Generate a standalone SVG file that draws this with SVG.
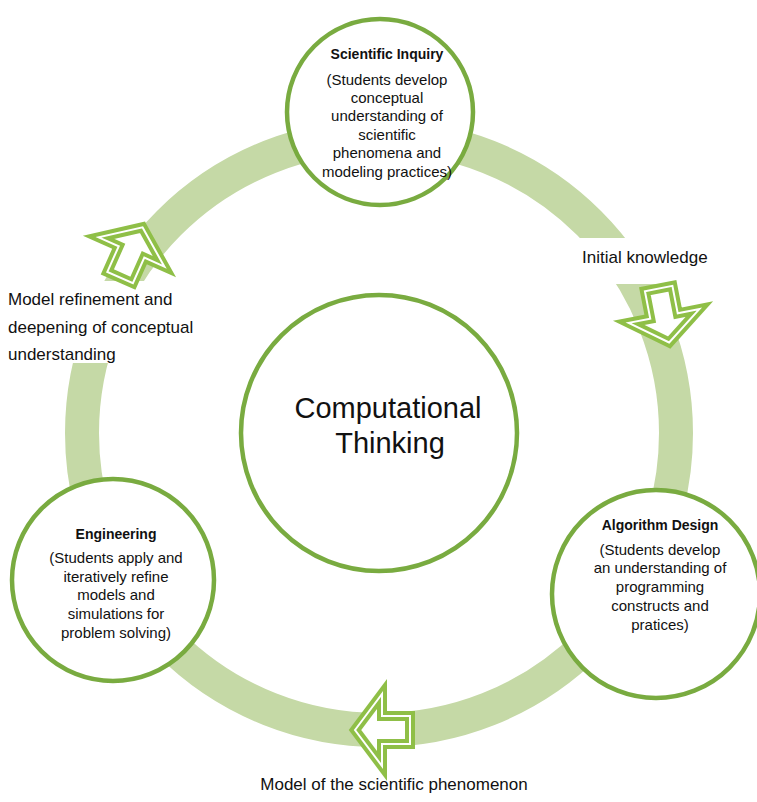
<svg xmlns="http://www.w3.org/2000/svg" width="757" height="802" viewBox="0 0 757 802">
<defs>
<style>
.ring{fill:none;stroke:#c5d9a6;stroke-width:34}
.node{fill:#fff;stroke:#79ab40;stroke-width:4.5}
.arrow-outer{fill:#fff;stroke:#8fbf47;stroke-width:10;stroke-linejoin:miter}
.arrow-inner{fill:none;stroke:#fff;stroke-width:2;stroke-linejoin:miter}
text{font-family:"Liberation Sans",Arial,sans-serif;fill:#111;text-anchor:middle}
.title{font-weight:bold;font-size:14px}
.body{font-size:15px}
.label{font-size:17px;text-anchor:start}
.center{font-size:29px}
</style>
<polygon id="arrowShape" points="0,-27 36,0 14,0 14,28 -14,28 -14,0 -36,0"/>
</defs>
<g id="connectors">
<circle class="ring" cx="379" cy="433" r="297"/>
<rect x="0" y="281" width="205" height="82" fill="#fff"/>
<rect x="572" y="238" width="145" height="46" fill="#fff"/>
<g transform="translate(131.5,252) rotate(24)">
<use href="#arrowShape" class="arrow-outer"/>
<use href="#arrowShape" class="arrow-inner"/>
</g>
<g transform="translate(664,316) rotate(169)">
<use href="#arrowShape" class="arrow-outer"/>
<use href="#arrowShape" class="arrow-inner"/>
</g>
<g transform="translate(382,730) rotate(-90)">
<use href="#arrowShape" class="arrow-outer"/>
<use href="#arrowShape" class="arrow-inner"/>
</g>
</g>
<g id="label-refinement">
<text class="label" x="8" y="305">Model refinement and</text>
<text class="label" x="8" y="333">deepening of conceptual</text>
<text class="label" x="8" y="360">understanding</text>
</g>
<g id="label-initial">
<text class="label" x="582" y="263">Initial knowledge</text>
</g>
<g id="label-model">
<text class="label" style="text-anchor:middle" x="394" y="790">Model of the scientific phenomenon</text>
</g>
<g id="node-ct">
<circle class="node" cx="379" cy="433" r="138"/>
<text class="center" x="388" y="418">Computational</text>
<text class="center" x="390" y="453">Thinking</text>
</g>
<g id="node-inquiry">
<circle class="node" cx="380" cy="112" r="93"/>
<text class="title" x="387" y="59">Scientific Inquiry</text>
<text class="body" x="387" y="85">(Students develop</text>
<text class="body" x="387" y="103">conceptual</text>
<text class="body" x="387" y="121">understanding of</text>
<text class="body" x="387" y="140">scientific</text>
<text class="body" x="387" y="158">phenomena and</text>
<text class="body" x="387" y="177">modeling practices)</text>
</g>
<g id="node-engineering">
<circle class="node" cx="113" cy="580" r="101"/>
<text class="title" x="116" y="539">Engineering</text>
<text class="body" x="116" y="563">(Students apply and</text>
<text class="body" x="116" y="582">iteratively refine</text>
<text class="body" x="116" y="600">models and</text>
<text class="body" x="116" y="619">simulations for</text>
<text class="body" x="116" y="638">problem solving)</text>
</g>
<g id="node-algorithm">
<circle class="node" cx="656" cy="594" r="104"/>
<text class="title" x="660" y="530">Algorithm Design</text>
<text class="body" x="660" y="555">(Students develop</text>
<text class="body" x="660" y="573">an understanding of</text>
<text class="body" x="660" y="592">programming</text>
<text class="body" x="660" y="611">constructs and</text>
<text class="body" x="660" y="630">pratices)</text>
</g>
</svg>
